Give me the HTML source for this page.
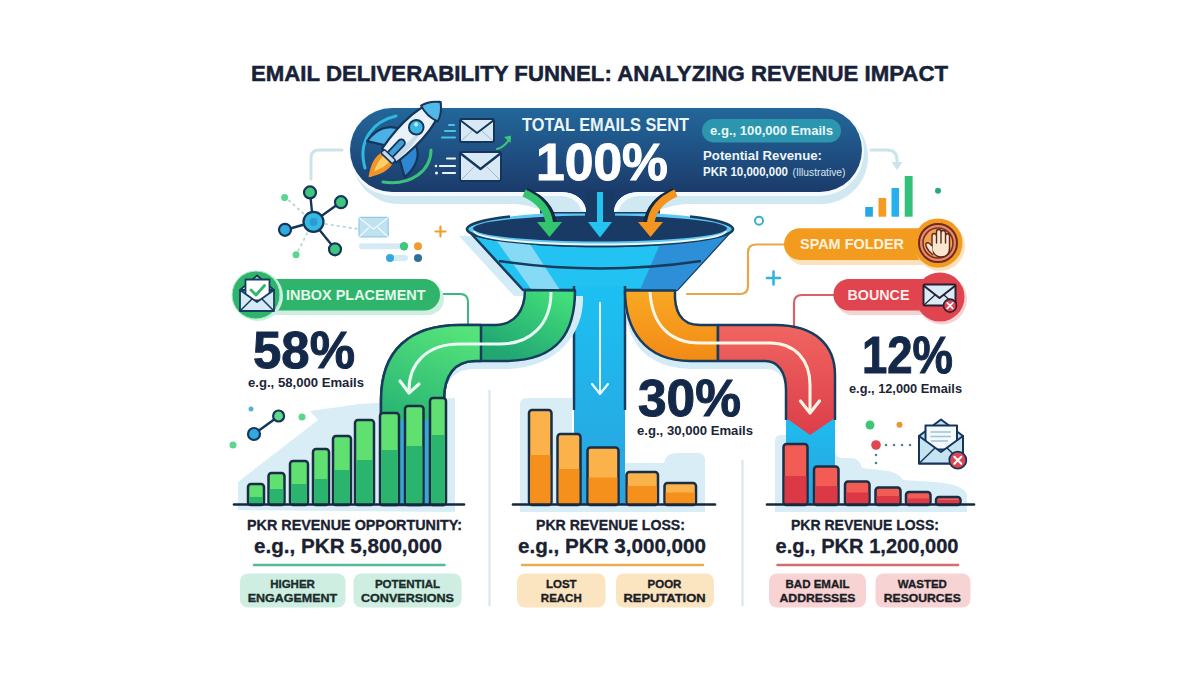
<!DOCTYPE html>
<html><head><meta charset="utf-8"><title>Email Deliverability Funnel</title>
<style>
html,body{margin:0;padding:0;background:#ffffff;width:1200px;height:675px;overflow:hidden;}
svg{display:block;}
text{font-family:"Liberation Sans",sans-serif;font-weight:bold;}
</style></head><body>
<svg width="1200" height="675" viewBox="0 0 1200 675">
<defs>
<linearGradient id="gBanner" x1="0" y1="0" x2="0" y2="1"><stop offset="0" stop-color="#23679a"/><stop offset="0.55" stop-color="#1f4f82"/><stop offset="1" stop-color="#1b3b6a"/></linearGradient>
<linearGradient id="gGreen" gradientUnits="userSpaceOnUse" x1="560" y1="290" x2="520" y2="362"><stop offset="0" stop-color="#42e07a"/><stop offset="1" stop-color="#22a773"/></linearGradient>
<linearGradient id="gGreen2" gradientUnits="userSpaceOnUse" x1="470" y1="330" x2="400" y2="500"><stop offset="0" stop-color="#55e47b"/><stop offset="0.55" stop-color="#2db874"/><stop offset="1" stop-color="#22a479"/></linearGradient>
<linearGradient id="gOrange" x1="0" y1="0" x2="0" y2="1"><stop offset="0" stop-color="#f9a824"/><stop offset="1" stop-color="#f28a15"/></linearGradient>
<linearGradient id="gRed" x1="0" y1="0" x2="0" y2="1"><stop offset="0" stop-color="#f06560"/><stop offset="1" stop-color="#dc3e4a"/></linearGradient>
<linearGradient id="gCol" x1="0" y1="0" x2="0" y2="1"><stop offset="0" stop-color="#1cc0f2"/><stop offset="1" stop-color="#2aa2de"/></linearGradient>
</defs>
<rect width="1200" height="675" fill="#ffffff"/>
<!-- BACKDROPS -->
<g fill="#d8edf6">
<path d="M238 510 L238 482 L318 420 L310 411 L360 404 L455 398 L455 512 Z"/>
<path d="M520 512 L520 404 Q520 398 528 398 L572 398 L572 512 Z"/>
<path d="M572 512 L572 470 L625 470 L625 463 L664 463 Q666 453 676 453 L698 453 Q705 453 705 461 L705 512 Z"/>
<path d="M775 512 L775 441 Q775 435 781 435 L835 435 L835 452 Q836 458 844 458 L852 458 Q860 459 862 468 L880 470 Q898 471 903 480 L935 482 Q962 484 967 494 L967 512 Z"/>
</g>
<!-- DIVIDERS -->
<line x1="489.5" y1="390" x2="489.5" y2="606" stroke="#d3e6ee" stroke-width="2"/>
<line x1="742.5" y1="460" x2="742.5" y2="606" stroke="#d3e6ee" stroke-width="2"/>
<!-- CONNECTORS -->
<g fill="none" stroke-linecap="round" stroke-linejoin="round">
<path d="M342 150 L319 150 Q311 150 311 158 L311 179" stroke="#cde3ea" stroke-width="3"/>
<path d="M871 150 L887 150 Q897 150 897 160 L897 165" stroke="#cde3ea" stroke-width="3"/>
<path d="M440 294 L460 294 Q468 294 468 302 L468 329" stroke="#3cb77f" stroke-width="2"/>
<path d="M786 244.5 L756 244.5 Q748 244.5 748 252.5 L748 286 Q748 294 740 294 L687 294" stroke="#eaa64a" stroke-width="2.2"/>
<path d="M835 295 L802 295 Q794 295 794 303 L794 332" stroke="#d9606a" stroke-width="2.2"/>
</g>
<circle cx="468" cy="329" r="3" fill="#3cb77f"/>
<path d="M891.5 162 L897 170 L902.5 162 Z" fill="#cde3ea"/>
<!-- FUNNEL -->
<path d="M459 236 L514 296 L560 296 L520 236 Z" fill="#d3ebf6"/>
<path d="M467 229 A133 17 0 0 0 733 229 L677 290 L523 290 Z" fill="#22c2f2" stroke="#173d5e" stroke-width="2.5" stroke-linejoin="round"/>
<path d="M496 240 L531 289 L560 290 L530 244 Z" fill="#86daf5"/>
<path d="M660 244 L705 240 L677 290 L640 290 Z" fill="#2d8fd8"/>
<path d="M700 238 L733 229 L677 290 L660 290 Z" fill="#2d8fd8"/>
<path d="M499 261 Q600 276 701 261" fill="none" stroke="#173d5e" stroke-width="2.5"/>
<!-- center column -->
<rect x="574" y="286" width="51" height="219" fill="url(#gCol)"/>
<path d="M574 286 L574 410 M625 286 L625 410" stroke="#173d5e" stroke-width="2.5"/>
<!-- rim + interior -->
<ellipse cx="600" cy="229" rx="133" ry="17" fill="#5dc9f0"/>
<path d="M510 216.5 A133 17 0 0 0 467 229 A133 17 0 0 0 733 229 A133 17 0 0 0 690 216.5" fill="none" stroke="#173d5e" stroke-width="2.6"/>
<ellipse cx="600" cy="228.5" rx="127" ry="13" fill="#1a3a66"/>
<path d="M474 231 A126 13.5 0 0 0 726 231" fill="none" stroke="#eaf8fd" stroke-width="2"/>


<!-- PIPE SHADOWS -->
<path d="M444 404 C444 380 455 369 475 369 L505 369 C560 369 583 330 583 300 L583 296 L575 296 C575 330 560 361 505 361 L475 361 C455 361 444 375 444 400 Z" fill="#d3ebf6"/>
<path d="M625 300 C625 335 640 369 695 369 L766 369 C780 369 787 380 787 395 L795 395 C795 380 780 361 766 361 L695 361 C650 361 625 330 625 296 Z" fill="#d3ebf6"/>
<!-- GREEN PIPE -->
<path d="M525 290 L575 290.5 C575 330 560 361 505 361 L475 361 C455 361 444 375 444 400 L444 505 L381 505 L381 400 C381 350 410 325 460 325 L495 325 C515 325 525 310 525 290 Z" fill="url(#gGreen)" stroke="#173d5e" stroke-width="2.5" stroke-linejoin="round"/>
<path d="M481 325 L481 361 L475 361 C455 361 444 375 444 400 L444 505 L381 505 L381 400 C381 350 410 325 460 325 Z" fill="url(#gGreen2)"/>
<path d="M381 420 L444 420 L444 505 L381 505 Z" fill="#3aa7d2"/>
<path d="M381 400 C381 350 410 325 460 325 L481 325 M481 361 L475 361 C455 361 444 375 444 400 L444 505 M381 400 L381 505" fill="none" stroke="#173d5e" stroke-width="2.5"/>
<path d="M481 326 L481 360" stroke="#173d5e" stroke-width="2.5"/>
<path d="M551 292 C551 325 530 344 500 344 L460 344 C425 344 409 365 409 390" fill="none" stroke="#e9fbf2" stroke-width="3"/>
<path d="M400 381 L409 393 L419 384" fill="none" stroke="#e9fbf2" stroke-width="3.2" stroke-linejoin="round" stroke-linecap="round"/>
<!-- ORANGE PIPE -->
<path d="M625 290.5 L675 290.5 C674 310 680 325 700 325 L718 325 L718 361 L690 361 C645 361 625 330 625 290.5 Z" fill="url(#gOrange)" stroke="#173d5e" stroke-width="2.5" stroke-linejoin="round"/>
<!-- RED PIPE -->
<rect x="786" y="405" width="49" height="100" fill="url(#gCol)"/>
<path d="M718 325 L775 325 C815 325 835 345 835 375 L835 418 L810 435 L786 418 L786 390 C786 372 778 361 765 361 L718 361 Z" fill="url(#gRed)"/>
<path d="M718 325 L775 325 C815 325 835 345 835 375 L835 420 M786 420 L786 390 C786 372 778 361 765 361 L718 361" fill="none" stroke="#173d5e" stroke-width="2.5" stroke-linejoin="round"/>
<path d="M718 326 L718 360" stroke="#173d5e" stroke-width="2.5"/>
<path d="M650 292 C652 325 670 343 700 343 L770 343 C795 343 810 360 810 385 L810 410" fill="none" stroke="#fff6e6" stroke-width="3"/>
<path d="M800.5 401 L810 413 L819.5 401" fill="none" stroke="#fff6e6" stroke-width="3.2" stroke-linejoin="round" stroke-linecap="round"/>
<!-- center column arrow -->
<path d="M600 302 L600 392" stroke="#e8f8ff" stroke-width="2"/>
<path d="M592 384 L600 394 L608 384" fill="none" stroke="#e8f8ff" stroke-width="2.2" stroke-linecap="round" stroke-linejoin="round"/>

<!-- BARS -->
<g stroke="#1a2e45" stroke-width="2.5" stroke-linejoin="round">
<!-- green -->
<g>
<rect x="248" y="484" width="16" height="21" rx="3" fill="#5fe070"/>
<rect x="268.5" y="473" width="16" height="32" rx="3" fill="#5fe070"/>
<rect x="290" y="461" width="18" height="44" rx="3" fill="#5fe070"/>
<rect x="313" y="449" width="16" height="56" rx="3" fill="#5fe070"/>
<rect x="333" y="436" width="18" height="69" rx="3" fill="#5fe070"/>
<rect x="355" y="420" width="19" height="85" rx="3" fill="#5fe070"/>
<rect x="380" y="413" width="19" height="92" rx="3" fill="#5fe070"/>
<rect x="405" y="406" width="18.5" height="99" rx="3" fill="#5fe070"/>
<rect x="430" y="398" width="16" height="107" rx="3" fill="#5fe070"/>
</g>
<!-- orange -->
<g>
<rect x="529" y="410" width="22.5" height="95" rx="3" fill="#fbb24a"/>
<rect x="557.5" y="434" width="23" height="71" rx="3" fill="#fbb24a"/>
<rect x="587.5" y="447.5" width="31" height="57.5" rx="3" fill="#fbb24a"/>
<rect x="626.5" y="472" width="31.5" height="33" rx="3" fill="#fbb24a"/>
<rect x="664.5" y="483" width="31.5" height="22" rx="3" fill="#fbb24a"/>
</g>
<!-- red -->
<g>
<rect x="783.5" y="444" width="24" height="61" rx="3" fill="#f25c55"/>
<rect x="814" y="466.5" width="24.5" height="38.5" rx="3" fill="#f25c55"/>
<rect x="845" y="481.5" width="24.5" height="23.5" rx="3" fill="#f25c55"/>
<rect x="875.5" y="487.5" width="25" height="17.5" rx="3" fill="#f25c55"/>
<rect x="906" y="492" width="24.5" height="13" rx="3" fill="#f25c55"/>
<rect x="936" y="497" width="24.5" height="8" rx="3" fill="#f25c55"/>
</g>
</g>
<!-- bar lower halves -->
<g>
<rect x="249.2" y="497" width="13.6" height="7" fill="#2bb46d"/>
<rect x="269.7" y="489" width="13.6" height="15" fill="#2bb46d"/>
<rect x="291.2" y="484" width="15.6" height="20" fill="#2bb46d"/>
<rect x="314.2" y="479" width="13.6" height="25" fill="#2bb46d"/>
<rect x="334.2" y="470" width="15.6" height="34" rx="0" fill="#2bb46d"/>
<rect x="356.2" y="460" width="16.6" height="44" fill="#2bb46d"/>
<rect x="381.2" y="450" width="16.6" height="54" fill="#2bb46d"/>
<rect x="406.2" y="446" width="16.1" height="58" fill="#2bb46d"/>
<rect x="431.2" y="435" width="13.6" height="69" fill="#2bb46d"/>

<rect x="530.2" y="455" width="20.1" height="49" fill="#f5901d"/>
<rect x="558.7" y="469" width="20.6" height="35" fill="#f5901d"/>
<rect x="588.7" y="477.5" width="28.6" height="26.5" fill="#f5901d"/>
<rect x="627.7" y="486" width="29.1" height="18" fill="#f5901d"/>
<rect x="665.7" y="492.5" width="29.1" height="11.5" fill="#f5901d"/>

<rect x="784.7" y="476" width="21.6" height="28" fill="#dc3947"/>
<rect x="815.2" y="486" width="22.1" height="18" fill="#dc3947"/>
<rect x="846.2" y="492.5" width="22.1" height="11.5" fill="#dc3947"/>
<rect x="876.7" y="496" width="22.6" height="8" fill="#dc3947"/>
<rect x="907.2" y="498.5" width="22.1" height="5.5" fill="#dc3947"/>
<rect x="937.2" y="500" width="22.1" height="4" fill="#dc3947"/>
</g>
<!-- baselines -->
<g stroke="#16283f" stroke-width="2.6" stroke-linecap="round">
<line x1="234" y1="504.5" x2="464" y2="504.5"/>
<line x1="513" y1="504.5" x2="715" y2="504.5"/>
<line x1="767" y1="504.5" x2="974" y2="504.5"/>
</g>

<!-- BANNER -->
<rect x="352" y="110" width="516" height="94" rx="47" fill="#cfe8f2"/>
<rect x="349" y="107" width="515" height="89" rx="44.5" fill="#f5fbfd"/>
<rect x="350" y="108" width="512" height="84" rx="42" fill="url(#gBanner)"/>
<!-- hooks -->
<rect x="540" y="190" width="120" height="23.5" fill="#1b3b6a"/>
<rect x="585" y="190" width="30" height="27" fill="#1a3a66"/>
<path d="M400 192 L562 192 A24 20 0 0 1 586 212 L545 212 Q530 204 505 203.5 L400 203.5 Z" fill="#cfe8f2"/>
<path d="M400 192 L562 192 A24 20 0 0 1 586 212 L581 210 A21 17 0 0 0 561 196 L400 196 Z" fill="#f5fbfd"/>
<path d="M800 192 L638 192 A24 20 0 0 0 614 212 L655 212 Q670 204 695 203.5 L800 203.5 Z" fill="#cfe8f2"/>
<path d="M800 192 L638 192 A24 20 0 0 0 614 212 L619 210 A21 17 0 0 1 639 196 L800 196 Z" fill="#f5fbfd"/>
<!-- banner texts -->
<text x="522" y="131.3" font-size="17.8" fill="#e9f5f8" textLength="167" lengthAdjust="spacingAndGlyphs">TOTAL EMAILS SENT</text>
<text x="536" y="180" font-size="52" fill="#ffffff" stroke="#ffffff" stroke-width="1" textLength="132" lengthAdjust="spacingAndGlyphs">100%</text>
<rect x="702" y="119" width="139" height="23.5" rx="11.75" fill="#2b96ad"/>
<text x="710" y="135.3" font-size="12" fill="#e9f7f7" font-weight="normal" textLength="123" lengthAdjust="spacingAndGlyphs" style="font-weight:600">e.g., 100,000 Emails</text>
<text x="703" y="160" font-size="13" fill="#eef6f9" textLength="119" lengthAdjust="spacingAndGlyphs">Potential Revenue:</text>
<text x="703" y="175.8" font-size="12" fill="#eef6f9" textLength="85" lengthAdjust="spacingAndGlyphs">PKR 10,000,000</text>
<text x="792.5" y="175.8" font-size="10" fill="#d6e6ef" style="font-weight:normal" textLength="53" lengthAdjust="spacingAndGlyphs">(Illustrative)</text>
<!-- TITLE -->
<text x="251" y="81" font-size="22.5" fill="#172238" stroke="#172238" stroke-width="0.5" textLength="697" lengthAdjust="spacingAndGlyphs">EMAIL DELIVERABILITY FUNNEL: ANALYZING REVENUE IMPACT</text>
<!-- PERCENTS -->
<text x="253" y="367.5" font-size="51.5" fill="#142849" stroke="#142849" stroke-width="1" textLength="102" lengthAdjust="spacingAndGlyphs">58%</text>
<text x="248" y="387.4" font-size="13.5" fill="#1c2535" textLength="116" lengthAdjust="spacingAndGlyphs">e.g., 58,000 Emails</text>
<text x="638" y="416" font-size="51.5" fill="#142849" stroke="#142849" stroke-width="1" textLength="103" lengthAdjust="spacingAndGlyphs">30%</text>
<text x="637" y="435" font-size="13.5" fill="#1c2535" textLength="116" lengthAdjust="spacingAndGlyphs">e.g., 30,000 Emails</text>
<text x="862" y="373" font-size="51" fill="#142849" stroke="#142849" stroke-width="1" textLength="91" lengthAdjust="spacingAndGlyphs">12%</text>
<text x="849" y="393" font-size="13.5" fill="#1c2535" textLength="113" lengthAdjust="spacingAndGlyphs">e.g., 12,000 Emails</text>
<!-- BOTTOM TEXTS -->
<g fill="#1a2231" stroke="#1a2231" stroke-width="0.3">
<text x="247" y="530.2" font-size="14" textLength="215" lengthAdjust="spacingAndGlyphs">PKR REVENUE OPPORTUNITY:</text>
<text x="254" y="552.7" font-size="20" textLength="188" lengthAdjust="spacingAndGlyphs">e.g., PKR 5,800,000</text>
<text x="536" y="530.2" font-size="14" textLength="149" lengthAdjust="spacingAndGlyphs">PKR REVENUE LOSS:</text>
<text x="518" y="552.7" font-size="20" textLength="188" lengthAdjust="spacingAndGlyphs">e.g., PKR 3,000,000</text>
<text x="791" y="530.2" font-size="14" textLength="148" lengthAdjust="spacingAndGlyphs">PKR REVENUE LOSS:</text>
<text x="775.5" y="552.7" font-size="20" textLength="183" lengthAdjust="spacingAndGlyphs">e.g., PKR 1,200,000</text>
</g>
<g stroke-width="2.5" stroke-linecap="round">
<line x1="254" y1="565" x2="444.5" y2="565" stroke="#52b99a"/>
<line x1="522" y1="565" x2="703" y2="565" stroke="#e5ae55"/>
<line x1="777.5" y1="565" x2="958" y2="565" stroke="#d66c6e"/>
</g>
<!-- TAGS -->
<rect x="240" y="573.5" width="105.5" height="34" rx="8" fill="#cdeee0"/>
<rect x="353.5" y="573.5" width="108" height="34" rx="8" fill="#cdeee0"/>
<rect x="517" y="573.5" width="88.5" height="34" rx="8" fill="#fbe4c0"/>
<rect x="616" y="573.5" width="98" height="34" rx="8" fill="#fbe4c0"/>
<rect x="769" y="573.5" width="97" height="34" rx="8" fill="#f8d3d3"/>
<rect x="875.5" y="573.5" width="95" height="34" rx="8" fill="#f8d3d3"/>
<g fill="#1b2c2c" stroke="#1b2c2c" stroke-width="0.35" font-size="11.5" text-anchor="middle">
<text x="292.5" y="587.6">HIGHER</text>
<text x="292.5" y="601.8" textLength="89.5" lengthAdjust="spacingAndGlyphs">ENGAGEMENT</text>
<text x="407.5" y="587.6">POTENTIAL</text>
<text x="407.5" y="601.8" textLength="93" lengthAdjust="spacingAndGlyphs">CONVERSIONS</text>
</g>
<g fill="#1c1e26" stroke="#1c1e26" stroke-width="0.35" font-size="11.5" text-anchor="middle">
<text x="561.3" y="587.6">LOST</text>
<text x="561.3" y="601.8">REACH</text>
<text x="664.5" y="587.6">POOR</text>
<text x="664.5" y="601.8" textLength="82" lengthAdjust="spacingAndGlyphs">REPUTATION</text>
<text x="817.5" y="587.6">BAD EMAIL</text>
<text x="817.5" y="601.8" textLength="76" lengthAdjust="spacingAndGlyphs">ADDRESSES</text>
<text x="922.3" y="587.6">WASTED</text>
<text x="922.3" y="601.8" textLength="77" lengthAdjust="spacingAndGlyphs">RESOURCES</text>
</g>

<!-- FUNNEL ARROWS -->
<path d="M526 192 Q550 202 553 224" fill="none" stroke="#102a44" stroke-width="8"/>
<path d="M524 193 Q547 203 549.5 224" fill="none" stroke="#35c46e" stroke-width="7.5"/>
<path d="M537 222 L562 222 L549.5 237 Z" fill="#35c46e"/>
<path d="M600 192 L600 224" stroke="#25c3ef" stroke-width="6"/>
<path d="M588 222 L612 222 L600 237.5 Z" fill="#25c3ef"/>
<path d="M674 192 Q650 202 647 224" fill="none" stroke="#102a44" stroke-width="8"/>
<path d="M676 193 Q653 203 650.5 224" fill="none" stroke="#f3951f" stroke-width="7.5"/>
<path d="M638 222 L663 222 L650.5 237 Z" fill="#f3951f"/>
<!-- INBOX PILL -->
<rect x="246" y="283" width="198" height="32" rx="16" fill="#cdeee0"/>
<rect x="250" y="279" width="190" height="31.5" rx="15.75" fill="#2eb56b"/>
<circle cx="258" cy="296" r="25" fill="#cdeee0"/>
<circle cx="256" cy="295" r="24" fill="#2eb56b" stroke="#a6efcc" stroke-width="1"/>
<text x="286" y="299.8" font-size="15.3" fill="#e4f8ec" textLength="139.5" lengthAdjust="spacingAndGlyphs">INBOX PLACEMENT</text>
<!-- envelope w check -->
<g stroke="#173d5e" stroke-width="1.8" stroke-linejoin="round">
<path d="M240 290 L257 275.5 L274 290 Z" fill="#cfe4f2"/>
<rect x="245.5" y="279.5" width="24" height="21" fill="#ffffff"/>
<path d="M240 290 L257 302 L274 290 L274 311 L240 311 Z" fill="#d6eaf6"/>
<path d="M240.5 310.5 L252 299 M273.5 310.5 L262 299" fill="none" stroke-width="1.5"/>
</g>
<path d="M251 290 L256 295 L264.5 285.5" fill="none" stroke="#2eb56b" stroke-width="2.8" stroke-linecap="round" stroke-linejoin="round"/>
<!-- SPAM PILL -->
<rect x="787" y="232" width="160" height="33" rx="16" fill="#fbe2bd"/>
<rect x="784" y="228.3" width="160" height="31.7" rx="15.85" fill="#f29b1f"/>
<circle cx="940" cy="246" r="25" fill="#fbe2bd"/>
<circle cx="938" cy="243" r="24.5" fill="#f29b1f"/>
<text x="800" y="248.8" font-size="15" fill="#fdf2dd" textLength="104" lengthAdjust="spacingAndGlyphs">SPAM FOLDER</text>
<circle cx="938" cy="243" r="19" fill="#e98a68" stroke="#6e2a22" stroke-width="2"/>
<circle cx="938" cy="243" r="15" fill="#f2a24e" stroke="#7a3027" stroke-width="1.6"/>
<path d="M932 250 L932 236 Q932 233.5 934.3 233.5 Q936.5 233.5 936.5 236 L936.5 243 L936.5 232 Q936.5 229.5 938.8 229.5 Q941 229.5 941 232 L941 243 L941 233 Q941 230.5 943.3 230.5 Q945.5 230.5 945.5 233 L945.5 243 L945.5 236 Q945.5 233.8 947.5 233.8 Q949.5 233.8 949.5 236 L949.5 248 Q949.5 257 941 257 Q935 257 932 250 Z" fill="#fbe6cf" stroke="#5a2a20" stroke-width="1.4" stroke-linejoin="round"/>
<path d="M932 246 Q928 241 926 243.5 Q925 245.5 929 251 L933 255" fill="#fbe6cf" stroke="#5a2a20" stroke-width="1.4" stroke-linejoin="round"/>
<!-- BOUNCE PILL -->
<rect x="836" y="283" width="110" height="32" rx="16" fill="#f6d3d3"/>
<rect x="833.4" y="279" width="108" height="31.5" rx="15.75" fill="#e0444f"/>
<circle cx="942" cy="299.5" r="25" fill="#f6d3d3"/>
<circle cx="940" cy="297" r="24.5" fill="#e0444f"/>
<text x="847.5" y="299.5" font-size="14.3" fill="#fdecec" textLength="62" lengthAdjust="spacingAndGlyphs">BOUNCE</text>
<g stroke="#2a2030" stroke-width="2" stroke-linejoin="round">
<rect x="923.5" y="284.5" width="32" height="21" rx="1.5" fill="#d9ecf8"/>
<path d="M923.5 285.5 L939.5 298 L955.5 285.5" fill="none"/>
<path d="M924 305 L935 295 M955 305 L944 295" fill="none" stroke-width="1.2"/>
</g>
<circle cx="950" cy="305.6" r="6.5" fill="#e0444f" stroke="#2a2030" stroke-width="1.6"/>
<path d="M947.3 302.9 L952.7 308.3 M952.7 302.9 L947.3 308.3" stroke="#ffffff" stroke-width="1.8" stroke-linecap="round"/>

<!-- ROCKET -->
<path d="M396 116 C374 121 357 140 365 168" fill="none" stroke="#2fb9e0" stroke-width="3" stroke-linecap="round"/>
<path d="M431 150 C431 170 412 186 383 182" fill="none" stroke="#3ac27a" stroke-width="3" stroke-linecap="round"/>
<g transform="translate(404.5 139.6) rotate(43.7)">
<path d="M-11 -4 C-23 0 -28 13 -26 27 L-9 17 Z" fill="#4ab0e6" stroke="#15365a" stroke-width="2.2" stroke-linejoin="round"/>
<path d="M11 -4 C23 0 28 13 26 27 L9 17 Z" fill="#2f86d0" stroke="#15365a" stroke-width="2.2" stroke-linejoin="round"/>
<path d="M-8 26 C-10 37 -4 46 0 52 C4 46 10 37 8 26 Z" fill="#f3942a"/>
<path d="M-4 26 C-5 34 -1 41 0 44 C1 41 5 34 4 26 Z" fill="#fbcf63"/>
<path d="M0 -52 C13 -41 15 -10 10 22 L-10 22 C-15 -10 -13 -41 0 -52 Z" fill="#e9f2f8" stroke="#15365a" stroke-width="2.2" stroke-linejoin="round"/>
<path d="M4 -20 C11 -8 10 8 8.5 21 L-2 21 C4 8 6 -8 4 -20 Z" fill="#c9dceb"/>
<path d="M0 -52 C7 -47 10 -42 11.5 -36 Q0 -32 -11.5 -36 C-10 -42 -7 -47 0 -52 Z" fill="#52b8ea" stroke="#15365a" stroke-width="2" stroke-linejoin="round"/>
<circle cx="0" cy="-17" r="7.3" fill="#3bb6e2" stroke="#15365a" stroke-width="2"/>
<circle cx="-2" cy="-19" r="2" fill="#bfe8f7"/>
<rect x="-3.5" y="1" width="7" height="22" rx="3.5" fill="#3f9fd6" stroke="#15365a" stroke-width="1.8"/>
<rect x="-8" y="21" width="16" height="5" rx="1.5" fill="#c8dbe8" stroke="#15365a" stroke-width="1.6"/>
</g>
<!-- banner envelopes -->
<g stroke="#15365a" stroke-width="2" stroke-linejoin="round">
<rect x="460" y="119" width="34" height="23" rx="2" fill="#d8e9f5"/>
<path d="M460 120 L477 133 L494 120" fill="none"/>
<path d="M461 141 L472 131 M493 141 L482 131" fill="none" stroke="#9fb9cc" stroke-width="1"/>
<rect x="460" y="152" width="41" height="29" rx="2" fill="#d8e9f5"/>
<path d="M460 153 L480.5 169 L501 153" fill="none" stroke-width="2.3"/>
<path d="M461 180 L474 167 M500 180 L487 167" fill="none" stroke="#9fb9cc" stroke-width="1"/>
</g>
<g stroke-linecap="round" stroke-width="2.2">
<path d="M449 125 L454 125 M445 131 L455 131 M442 137.5 L455 137.5" stroke="#47c2e6"/>
<path d="M447 158.5 L455 158.5 M440 166 L455 166 M443 173 L455 173" stroke="#eaf4fa"/>
</g>
<circle cx="436" cy="166" r="1.3" fill="#eaf4fa"/>
<circle cx="436.5" cy="173" r="1.5" fill="#eaf4fa"/>
<path d="M497 149 Q505 147 510 138" fill="none" stroke="#3cc47a" stroke-width="2" stroke-linecap="round"/>
<path d="M504 137 L511 135.5 L510.5 143 Z" fill="#3cc47a"/>
<!-- NETWORK ICON -->
<g stroke="#b8d8cf" stroke-width="1.8" stroke-dasharray="3 3" fill="none">
<path d="M313 222 L285 197"/>
<path d="M313 222 L296 255"/>
<path d="M313 222 L358 229"/>
</g>
<g stroke="#15365a" stroke-width="2.4" fill="none">
<path d="M313 222 L310 192 M313 222 L341 202 M313 222 L285 230 M313 222 L335 249"/>
</g>
<g stroke="#15365a" stroke-width="2.2">
<circle cx="313.5" cy="221.8" r="10" fill="#36b9e3"/>
<circle cx="310" cy="192.4" r="6" fill="#3ec77c"/>
<circle cx="341" cy="202.2" r="6" fill="#3ec77c"/>
<circle cx="285" cy="229.8" r="6" fill="#31a9e0"/>
<circle cx="335" cy="249.3" r="6" fill="#3ec77c"/>
</g>
<circle cx="313.5" cy="222" r="4" fill="#2a9bd8"/>
<circle cx="284.6" cy="197.5" r="3.5" fill="#5cd68f"/>
<circle cx="296" cy="254.8" r="3.5" fill="#5cd68f"/>
<rect x="359" y="217.3" width="29.2" height="19.6" rx="1.5" fill="#bfe2f1" stroke="#94cbe2" stroke-width="1.2"/>
<path d="M359.5 218 L373.6 229 L387.7 218 M359.5 236.5 L369 227.5 M387.7 236.5 L378 227.5" fill="none" stroke="#eef8fc" stroke-width="1.5"/>
<rect x="359" y="243.3" width="45" height="6" rx="3" fill="#d5ebf4"/>
<circle cx="404" cy="246.3" r="4.2" fill="#3ec77c"/>
<circle cx="418" cy="246.3" r="4" fill="#f29b2e"/>
<rect x="390" y="255" width="18" height="6" rx="3" fill="#d5ebf4"/>
<circle cx="390" cy="258" r="4" fill="#31a9e0"/>
<circle cx="418" cy="258" r="4" fill="#2f6f9a"/>
<path d="M435.5 231.5 L445.5 231.5 M440.5 226.5 L440.5 236.5" stroke="#f29b2e" stroke-width="2.2" stroke-linecap="round"/>
<!-- misc right -->
<circle cx="759" cy="220.8" r="4" fill="none" stroke="#3aaed0" stroke-width="2"/>
<path d="M767 278 L780 278 M773.5 271.5 L773.5 284.5" stroke="#34b3d8" stroke-width="2.6" stroke-linecap="round"/>
<g>
<rect x="865.2" y="207" width="7.7" height="9.7" fill="#27a8e6"/>
<rect x="878.5" y="198" width="7.7" height="18.7" fill="#f59a22"/>
<rect x="891.5" y="188" width="7.5" height="28.7" fill="#25b1ec"/>
<rect x="904.7" y="176" width="7.9" height="40.7" fill="#34c07a"/>
</g>
<circle cx="938" cy="190.7" r="3" fill="#2aa886"/>
<!-- right envelope + dots -->
<circle cx="870" cy="425" r="4.5" fill="#3ec77c"/>
<circle cx="899.5" cy="424.7" r="3" fill="#eb9634"/>
<circle cx="876" cy="445" r="4.8" fill="#e04552"/>
<g fill="#4f8391">
<circle cx="886" cy="445" r="1.3"/>
<circle cx="894" cy="445" r="1.3"/>
<circle cx="902" cy="445" r="1.3"/>
<circle cx="910" cy="445" r="1.3"/>
<circle cx="876" cy="455" r="1.3"/>
<circle cx="876" cy="463" r="1.3"/>
</g>
<g stroke="#15365a" stroke-width="2" stroke-linejoin="round">
<path d="M919 436 L941 419.5 L963 436 L963 463.5 L919 463.5 Z" fill="#bfdff0"/>
<rect x="925.5" y="425.5" width="31.5" height="24" fill="#f3f9fc"/>
<path d="M919 436 L941 452 L963 436 L963 463.5 L919 463.5 Z" fill="#c6e3f2"/>
<path d="M919.5 463 L935 448 M962.5 463 L947 448" fill="none" stroke-width="1.4"/>
</g>
<path d="M930.5 432 L951 432 M930.5 436.5 L951 436.5 M931 441 L948 441" stroke="#9fc3cf" stroke-width="1.3"/>
<circle cx="957.8" cy="460.2" r="8.5" fill="#e04552" stroke="#15365a" stroke-width="1.8"/>
<path d="M954.3 456.7 L961.3 463.7 M961.3 456.7 L954.3 463.7" stroke="#ffffff" stroke-width="2" stroke-linecap="round"/>
<!-- left graph icon -->
<path d="M254 434 L279 416" stroke="#15365a" stroke-width="2.4"/>
<circle cx="254" cy="434" r="6" fill="#31a9e0" stroke="#15365a" stroke-width="2.2"/>
<circle cx="278.6" cy="416" r="5.5" fill="#5ed889" stroke="#15365a" stroke-width="2.2"/>
<circle cx="251" cy="409" r="2.5" fill="#5aaed8"/>
<circle cx="302" cy="417" r="3.5" fill="#5cd68f"/>
<circle cx="233" cy="445" r="3.5" fill="#5cd68f"/>

<!--END-->
</svg>
</body></html>
